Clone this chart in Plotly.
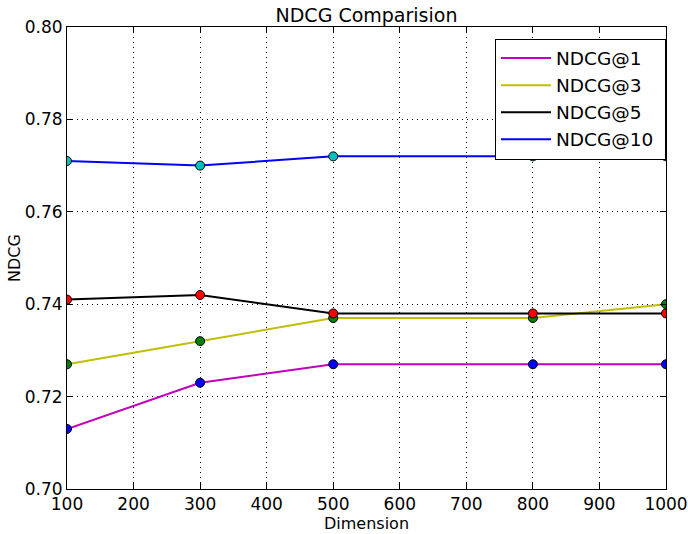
import plotly.graph_objects as go

dimensions = [100, 300, 500, 800, 1000]
ndcg1 = [0.713, 0.723, 0.727, 0.727, 0.727]
ndcg3 = [0.727, 0.732, 0.737, 0.737, 0.740]
ndcg5 = [0.741, 0.742, 0.738, 0.738, 0.738]
ndcg10 = [0.771, 0.770, 0.772, 0.772, 0.772]

series_names = ["NDCG@1", "NDCG@3", "NDCG@5", "NDCG@10"]
series_values = [ndcg1, ndcg3, ndcg5, ndcg10]
line_colors = ["#bf00bf", "#bfbf00", "#000000", "#0000ff"]
marker_colors = ["#0000ff", "#008000", "#ff0000", "#00bfbf"]

fig = go.Figure()
for name, vals, lc in zip(series_names, series_values, line_colors):
    fig.add_trace(go.Scatter(x=dimensions, y=vals, mode="lines", name=name + "\u00a0",
                             line=dict(color=lc, width=2), cliponaxis=True))
for vals, mc in zip(series_values, marker_colors):
    fig.add_trace(go.Scatter(x=dimensions, y=vals, mode="markers", showlegend=False,
                             cliponaxis=True,
                             marker=dict(color=mc, size=9, line=dict(color="black", width=1))))

axis_common = dict(showline=True, linecolor="black", linewidth=1, mirror="ticks",
                   ticks="inside", ticklen=6, tickcolor="black",
                   showgrid=True, gridcolor="black", griddash="1px,4px", gridwidth=1,
                   zeroline=False, tickfont=dict(size=17, color="black"),
                   automargin=False)

fig.update_xaxes(range=[100, 1000], dtick=100, tick0=100,
                 title=dict(text="Dimension", font=dict(size=16, color="black"), standoff=2),
                 **axis_common)
fig.update_yaxes(range=[0.70, 0.80], dtick=0.02, tickformat=".2f",
                 title=dict(text="NDCG", font=dict(size=16, color="black"), standoff=0),
                 **axis_common)

W, H = 688, 534
fig.update_layout(
    width=W, height=H,
    margin=dict(l=67, r=22, t=27, b=45, autoexpand=False),
    paper_bgcolor="white", plot_bgcolor="white",
    font=dict(family="DejaVu Sans", color="black"),
    title=dict(text="NDCG Comparision", x=0.5, xanchor="center", xref="paper",
               yref="container", y=1 - 15 / H, yanchor="middle",
               font=dict(size=19, color="black"), automargin=False),
    legend=dict(x=1.0, y=0.975, xanchor="right", yanchor="top",
                bordercolor="black", borderwidth=1, bgcolor="white",
                font=dict(size=18.5, color="black"), itemwidth=50,
                tracegroupgap=0),
    showlegend=True,
)

fig.write_html("out.html", config={"displayModeBar": False},
               post_script="document.body.style.margin='0';document.body.style.overflow='hidden';")
